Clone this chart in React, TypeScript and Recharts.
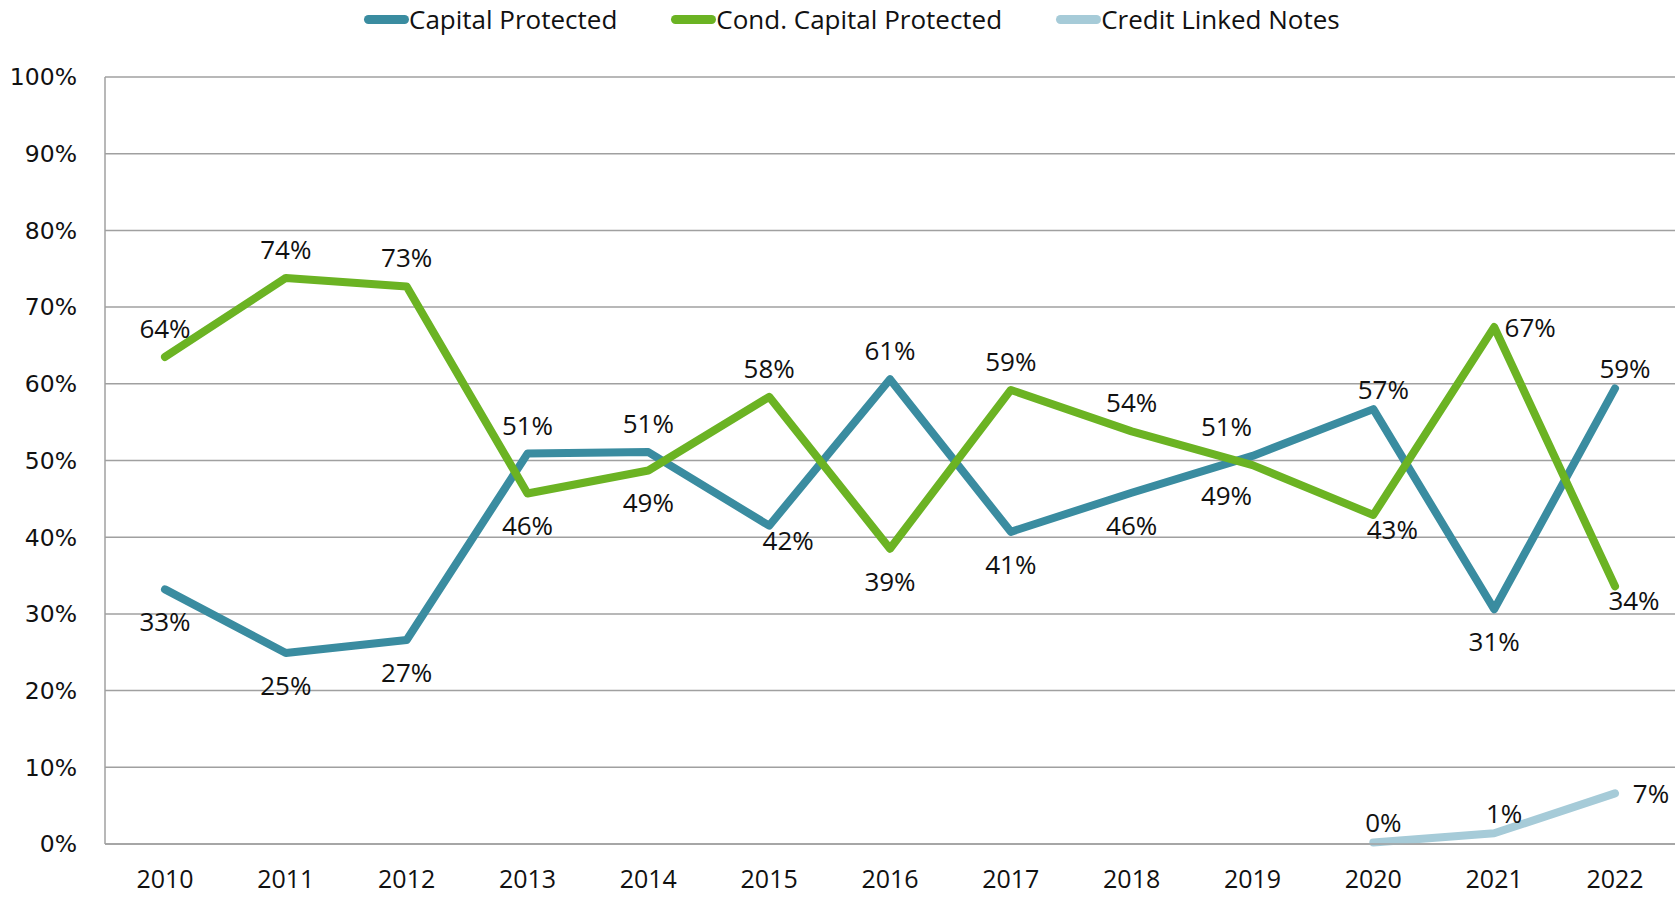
import { LineChart, Line, XAxis, YAxis, CartesianGrid } from 'recharts'

// values, in percent
const years = ['2010', '2011', '2012', '2013', '2014', '2015', '2016', '2017', '2018', '2019', '2020', '2021', '2022']
const capitalProtected = [33.2, 24.9, 26.6, 50.9, 51.1, 41.5, 60.6, 40.7, 45.8, 50.6, 56.7, 30.6, 59.4]
const condCapitalProtected = [63.5, 73.8, 72.7, 45.7, 48.7, 58.3, 38.5, 59.2, 53.8, 49.4, 42.9, 67.4, 33.6]
const creditLinkedNotes = [null, null, null, null, null, null, null, null, null, null, 0.2, 1.4, 6.6]
const yTicks = [0, 10, 20, 30, 40, 50, 60, 70, 80, 90, 100]

// where each data label sits relative to its point
const cpLabelPos = ['b', 'b', 'b', 't', 't', 'br', 't', 'b', 'b', 'tl', 'tr', 'b', 'tr']
const condLabelPos = ['t', 't', 't', 'b', 'b', 't', 'b', 't', 't', 'bl', 'br', 'r', 'br']
const clnLabelPos = ['', '', '', '', '', '', '', '', '', '', 'tr', 'tr', 'r']

const COLORS = {
  cp: '#3A8CA0',
  cond: '#6BB323',
  cln: '#A6CBD8',
  grid: '#A0A0A0',
}

const FONT = '"Open Sans", sans-serif'

const data = years.map((year, i) => ({
  year,
  cp: capitalProtected[i],
  cond: condCapitalProtected[i],
  cln: creditLinkedNotes[i],
}))

const offsets: Record<string, [number, number]> = {
  t: [0, -29],
  b: [0, 32],
  tr: [10, -20],
  tl: [-26, -30],
  br: [19, 14],
  bl: [-26, 30],
  r: [36, 0],
}

function makeLabel(positions: string[]) {
  return (props: any) => {
    const { x, y, value, index } = props
    if (value == null || x == null || y == null) return <g key={`e-${index}`} />
    const [dx, dy] = offsets[positions[index]] || [0, -29]
    return (
      <text
        key={`l-${index}`}
        x={x + dx}
        y={y + dy}
        textAnchor="middle"
        dominantBaseline="central"
        fontFamily={FONT}
        fontSize={26}
        fill="#111"
      >
        {Math.round(value)}%
      </text>
    )
  }
}

const legendItems = [
  { name: 'Capital Protected', color: COLORS.cp },
  { name: 'Cond. Capital Protected', color: COLORS.cond },
  { name: 'Credit Linked Notes', color: COLORS.cln },
]

export default function App() {
  return (
    <div style={{ position: 'absolute', left: 0, top: 0, width: 1675, height: 899, background: '#fff' }}>
      <div
        style={{
          position: 'absolute',
          left: 364,
          top: 1,
          height: 36,
          display: 'flex',
          alignItems: 'center',
          gap: 54,
          fontFamily: FONT,
          fontSize: 26,
          color: '#111',
          whiteSpace: 'nowrap',
        }}
      >
        {legendItems.map((it) => (
          <div key={it.name} style={{ display: 'flex', alignItems: 'center' }}>
            <span style={{ display: 'inline-block', width: 45, height: 9, borderRadius: 5, background: it.color }} />
            <span>{it.name}</span>
          </div>
        ))}
      </div>
      <LineChart width={1675} height={899} data={data} margin={{ top: 77, right: 0, left: 0, bottom: 0 }}>
        <CartesianGrid vertical={false} stroke={COLORS.grid} strokeWidth={1.5} />
        <XAxis
          dataKey="year"
          height={55}
          padding={{ left: 60, right: 60 }}
          axisLine={{ stroke: COLORS.grid, strokeWidth: 1.5 }}
          tickLine={false}
          tickMargin={20}
          interval={0}
          tick={{ fontFamily: FONT, fontSize: 25, fill: '#111' }}
        />
        <YAxis
          width={105}
          domain={[0, 100]}
          ticks={yTicks}
          interval={0}
          axisLine={{ stroke: COLORS.grid, strokeWidth: 1.5 }}
          tickLine={false}
          tickMargin={22}
          tickFormatter={(v) => `${v}%`}
          tick={{ fontFamily: '"DejaVu Sans", sans-serif', fontSize: 23.5, fill: '#111' }}
        />
        <Line
          dataKey="cp"
          stroke={COLORS.cp}
          strokeWidth={8}
          strokeLinecap="round"
          strokeLinejoin="round"
          dot={false}
          isAnimationActive={false}
          label={makeLabel(cpLabelPos)}
        />
        <Line
          dataKey="cond"
          stroke={COLORS.cond}
          strokeWidth={8}
          strokeLinecap="round"
          strokeLinejoin="round"
          dot={false}
          isAnimationActive={false}
          label={makeLabel(condLabelPos)}
        />
        <Line
          dataKey="cln"
          stroke={COLORS.cln}
          strokeWidth={8}
          strokeLinecap="round"
          strokeLinejoin="round"
          dot={false}
          isAnimationActive={false}
          label={makeLabel(clnLabelPos)}
        />
      </LineChart>
    </div>
  )
}
